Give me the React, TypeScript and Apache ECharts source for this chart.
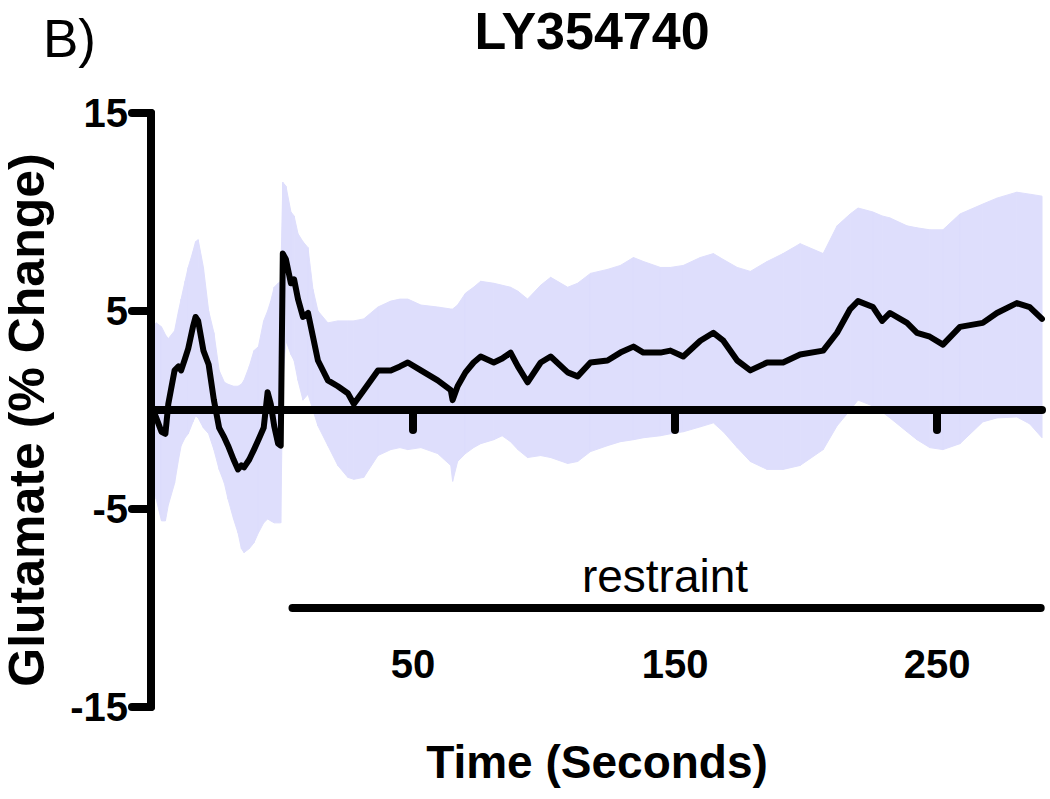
import React, { useEffect, useRef } from "react";
import * as echarts from "echarts";

const times = [
  -50, -48, -46, -44.5, -43.4, -41, -39.5, -38.5, -37, -35.8, -34, -33, -32, -30, -28, -26, -24, -22, -20.6,
  -18.5, -16.8, -15.5, -14.5, -12.5, -10.7, -9, -7, -5.5, -4.3, -3, -1.5, -0.5, 0.3, 1.5, 3.4, 4.6, 6.1, 8,
  9.9, 11.8, 13.7, 17.5, 21.3, 25.1, 27.4, 31.2, 36.6, 41.5, 45, 48, 53, 59.4, 64.4, 65.1, 67, 70, 73.1, 75.8,
  80.8, 84, 87.2, 90, 93.7, 98.7, 102.5, 109, 112.8, 117.7, 124.2, 129.1, 134.1, 137.9, 144.4, 148.2, 153.1,
  159.6, 164.6, 168.4, 173.7, 178.7, 185.1, 191.2, 197.7, 206.5, 211.8, 216.8, 219.8, 225.5, 229, 232, 238.5,
  242.3, 247.2, 252.2, 258.7, 267.4, 272.8, 280.4, 285.3, 290,
];

const meanValues = [
  0.3, -0.4, -1.1, -1.2, 0.3, 2.0, 2.2, 2.0, 2.6, 3.1, 4.2, 4.7, 4.5, 3.0, 2.3, 0.5, -0.9, -1.4, -1.8,
  -2.5, -3.0, -2.8, -2.9, -2.5, -2.0, -1.5, -0.9, 0.9, 0.3, -0.8, -1.7, -1.8, 7.9, 7.6, 6.4, 6.6, 5.6, 4.7,
  4.9, 3.7, 2.5, 1.5, 1.2, 0.85, 0.3, 1.0, 2.0, 2.0, 2.2, 2.4, 2.0, 1.5, 1.0, 0.5, 1.2, 1.9, 2.4, 2.7,
  2.4, 2.6, 2.9, 2.2, 1.4, 2.4, 2.7, 1.9, 1.7, 2.4, 2.5, 2.9, 3.2, 2.9, 2.9, 3.0, 2.7,
  3.5, 3.9, 3.5, 2.5, 2.0, 2.4, 2.4, 2.8, 3.0, 3.9, 5.1, 5.5, 5.2, 4.5, 4.9, 4.4,
  3.9, 3.7, 3.3, 4.2, 4.4, 4.9, 5.4, 5.2, 4.6,
];

const upperValues = [
  4.0, 4.4, 4.2, 3.8, 3.6, 4.0, 5.0, 5.6, 6.5, 7.2, 8.0, 8.5, 8.6, 7.2, 5.0, 3.9, 2.0, 1.4, 1.3,
  1.2, 1.2, 1.3, 1.5, 2.2, 3.0, 3.2, 4.5, 5.0, 5.5, 6.2, 6.4, 6.5, 11.5, 11.3, 10.0, 9.8, 8.9, 8.5,
  8.2, 6.1, 5.0, 4.4, 4.5, 4.5, 4.5, 4.6, 5.2, 5.5, 5.6, 5.6, 5.3, 5.2, 5.1, 5.1, 5.3, 5.9, 6.2, 6.5,
  6.4, 6.3, 6.2, 6.0, 5.6, 6.3, 6.7, 6.2, 6.4, 6.9, 7.1, 7.3, 7.7, 7.5, 7.2, 7.2, 7.3,
  7.7, 7.9, 7.6, 7.2, 7.0, 7.5, 7.9, 8.4, 7.9, 9.3, 9.9, 10.2, 10.0, 9.8, 9.7, 9.3,
  9.2, 9.1, 9.1, 9.9, 10.4, 10.7, 11.0, 10.9, 10.8,
];

const lowerValues = [
  -3.0, -4.5, -5.6, -5.6, -4.8, -3.7, -2.5, -1.8, -1.4, -1.2, -0.6, -0.3, -0.4, -0.9, -1.2, -2.0, -3.0, -3.7, -4.5,
  -5.5, -6.2, -7.0, -7.2, -7.0, -6.7, -6.2, -5.7, -5.5, -5.6, -5.7, -5.7, -5.7, 1.5, 3.5, 2.8, 2.5, 1.5, 0.5,
  0.8, 0.0, -0.8, -1.8, -2.8, -3.4, -3.5, -3.4, -2.3, -2.0, -1.9, -2.0, -1.9, -2.2, -2.8, -3.6, -2.6, -2.2, -1.9, -1.7,
  -1.5, -1.3, -1.6, -2.0, -2.4, -2.3, -2.4, -2.7, -2.6, -2.1, -1.8, -1.6, -1.5, -1.4, -1.3, -1.2, -1.1,
  -0.85, -0.65, -1.1, -1.9, -2.6, -3.0, -3.0, -2.8, -2.0, -0.8, 0.0, 0.5, 0.2, -0.1, -0.4, -1.1,
  -1.5, -1.9, -2.0, -1.7, -0.6, -0.4, -0.35, -0.7, -1.4,
];

const yTicks = { min: -15, max: 15, interval: 10 };
const xTickValues = [50, 150, 250];
const restraintPeriod = [4, 289.5];
const restraintLevel = -10;

const FONT = "'Liberation Sans', Arial, Helvetica, sans-serif";
const BAND_COLOR = "#dedefc";

export default function App() {
  const ref = useRef<HTMLDivElement>(null);

  useEffect(() => {
    if (!ref.current) return;
    const chart = echarts.init(ref.current, undefined, { renderer: "svg" });

    // one band segment per pair of consecutive samples
    const bandSegments = times.slice(0, -1).map((t, i) => [
      t,
      upperValues[i],
      lowerValues[i],
      times[i + 1],
      upperValues[i + 1],
      lowerValues[i + 1],
    ]);

    chart.setOption({
      animation: false,
      backgroundColor: "#ffffff",
      grid: { left: 151, right: 8, top: 113, bottom: 92, containLabel: false },
      xAxis: [
        {
          type: "value",
          min: -50,
          max: 290,
          position: "bottom",
          z: 2,
          axisLine: {
            show: true,
            onZero: true,
            lineStyle: { color: "#000", width: 8, cap: "round" },
          },
          axisTick: {
            show: true,
            customValues: xTickValues,
            length: 20,
            lineStyle: { color: "#000", width: 8, cap: "round" },
          },
          axisLabel: { show: false },
          splitLine: { show: false },
        },
        {
          type: "value",
          min: -50,
          max: 290,
          position: "bottom",
          axisLine: { show: false, onZero: false },
          axisTick: { show: false },
          splitLine: { show: false },
          axisLabel: {
            show: true,
            customValues: xTickValues,
            inside: true,
            margin: 43,
            verticalAlign: "middle",
            color: "#000",
            fontFamily: FONT,
            fontWeight: "bold",
            fontSize: 40,
          },
        },
      ],
      yAxis: {
        type: "value",
        min: yTicks.min,
        max: yTicks.max,
        interval: yTicks.interval,
        z: 2,
        axisLine: { show: true, onZero: false, lineStyle: { color: "#000", width: 8 } },
        axisTick: { show: true, length: 19, lineStyle: { color: "#000", width: 8, cap: "round" } },
        axisLabel: {
          color: "#000",
          fontFamily: FONT,
          fontWeight: "bold",
          fontSize: 40,
          margin: 23,
        },
        splitLine: { show: false },
      },
      series: [
        {
          type: "custom",
          silent: true,
          z: 1,
          data: bandSegments,
          encode: { x: [0, 3], y: [1, 2, 4, 5] },
          renderItem: (params: any, api: any) => {
            const a = api.coord([api.value(0), api.value(1)]);
            const b = api.coord([api.value(3), api.value(4)]);
            const c = api.coord([api.value(3), api.value(5)]);
            const d = api.coord([api.value(0), api.value(2)]);
            return {
              type: "polygon",
              shape: { points: [a, b, c, d] },
              style: { fill: BAND_COLOR, stroke: BAND_COLOR, lineWidth: 1 },
            };
          },
        },
        {
          type: "line",
          data: times.map((t, i) => [t, meanValues[i]]),
          symbol: "none",
          lineStyle: { color: "#000", width: 6, cap: "round", join: "round" },
          z: 3,
        },
        {
          type: "line",
          data: restraintPeriod.map((t) => [t, restraintLevel]),
          symbol: "none",
          lineStyle: { color: "#000", width: 8, cap: "round" },
          z: 3,
        },
      ],
      graphic: [
        {
          type: "text",
          x: 592,
          y: 5,
          style: {
            text: "LY354740",
            fill: "#000",
            font: `bold 52px ${FONT}`,
            textAlign: "center",
            textVerticalAlign: "top",
          },
        },
        {
          type: "text",
          x: 43,
          y: 38,
          style: {
            text: "B)",
            fill: "#000",
            font: `53px ${FONT}`,
            textAlign: "left",
            textVerticalAlign: "middle",
          },
        },
        {
          type: "text",
          x: 665,
          y: 576,
          style: {
            text: "restraint",
            fill: "#000",
            font: `46px ${FONT}`,
            textAlign: "center",
            textVerticalAlign: "middle",
          },
        },
        {
          type: "text",
          x: 597,
          y: 762,
          style: {
            text: "Time (Seconds)",
            fill: "#000",
            font: `bold 46px ${FONT}`,
            textAlign: "center",
            textVerticalAlign: "middle",
          },
        },
        {
          type: "text",
          x: 27,
          y: 420,
          rotation: Math.PI / 2,
          style: {
            text: "Glutamate (% Change)",
            fill: "#000",
            font: `bold 50px ${FONT}`,
            textAlign: "center",
            textVerticalAlign: "middle",
          },
        },
      ],
    });
    return () => chart.dispose();
  }, []);

  return (
    <div
      ref={ref}
      style={{ position: "fixed", left: 0, top: 0, width: 1050, height: 799, background: "#fff" }}
    />
  );
}
